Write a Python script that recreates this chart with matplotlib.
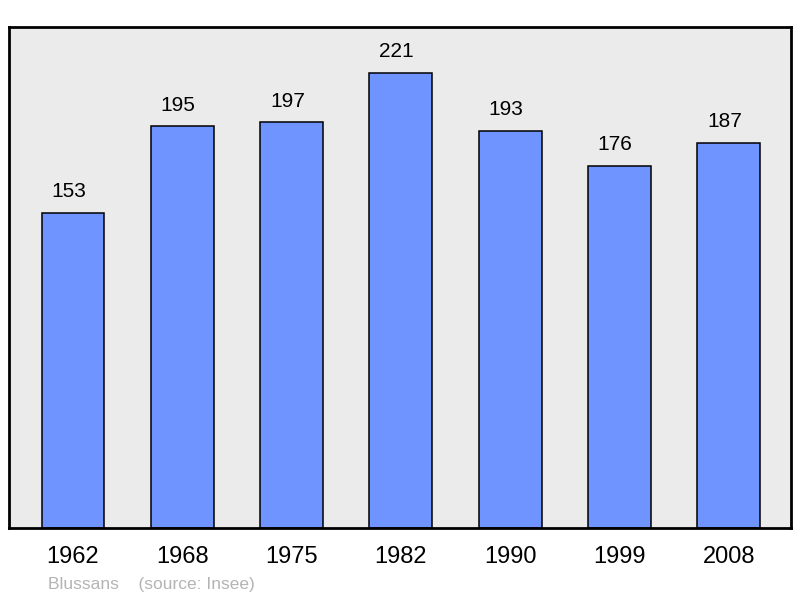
import matplotlib.pyplot as plt

plt.rcParams['font.family'] = ['Liberation Sans', 'DejaVu Sans']

# Données : population de Blussans
annees = ['1962', '1968', '1975', '1982', '1990', '1999', '2008']
population = [153, 195, 197, 221, 193, 176, 187]

fig = plt.figure(figsize=(8, 5.98), dpi=100)
ax = fig.add_axes([9 / 800, 1 - 528 / 598, 782 / 800, 501 / 598])
ax.set_facecolor('#ebebeb')

x = range(len(annees))
ax.bar(x, population, width=0.575, color='#7094ff', edgecolor='black', linewidth=1.1, zorder=2)

# Valeurs au-dessus des barres (légèrement décalées à gauche comme l'original)
for xi, v in zip(x, population):
    ax.annotate(str(v), (xi, v), xytext=(-3, 8.5), textcoords='offset points',
                ha='center', va='bottom', fontsize=15)

ax.set_xlim(-0.585, 6.57)
ax.set_ylim(0, 243.3)
ax.set_xticks(list(x))
ax.set_xticklabels(annees, fontsize=17)
ax.tick_params(axis='x', length=0, pad=13)
ax.set_yticks([])
for s in ax.spines.values():
    s.set_linewidth(2)

fig.text(48 / 800, 1 - 584 / 598, 'Blussans    (source: Insee)', color='#b4b4b4',
         fontsize=12.5, va='center', ha='left')

fig.savefig('out.png', dpi=100)
